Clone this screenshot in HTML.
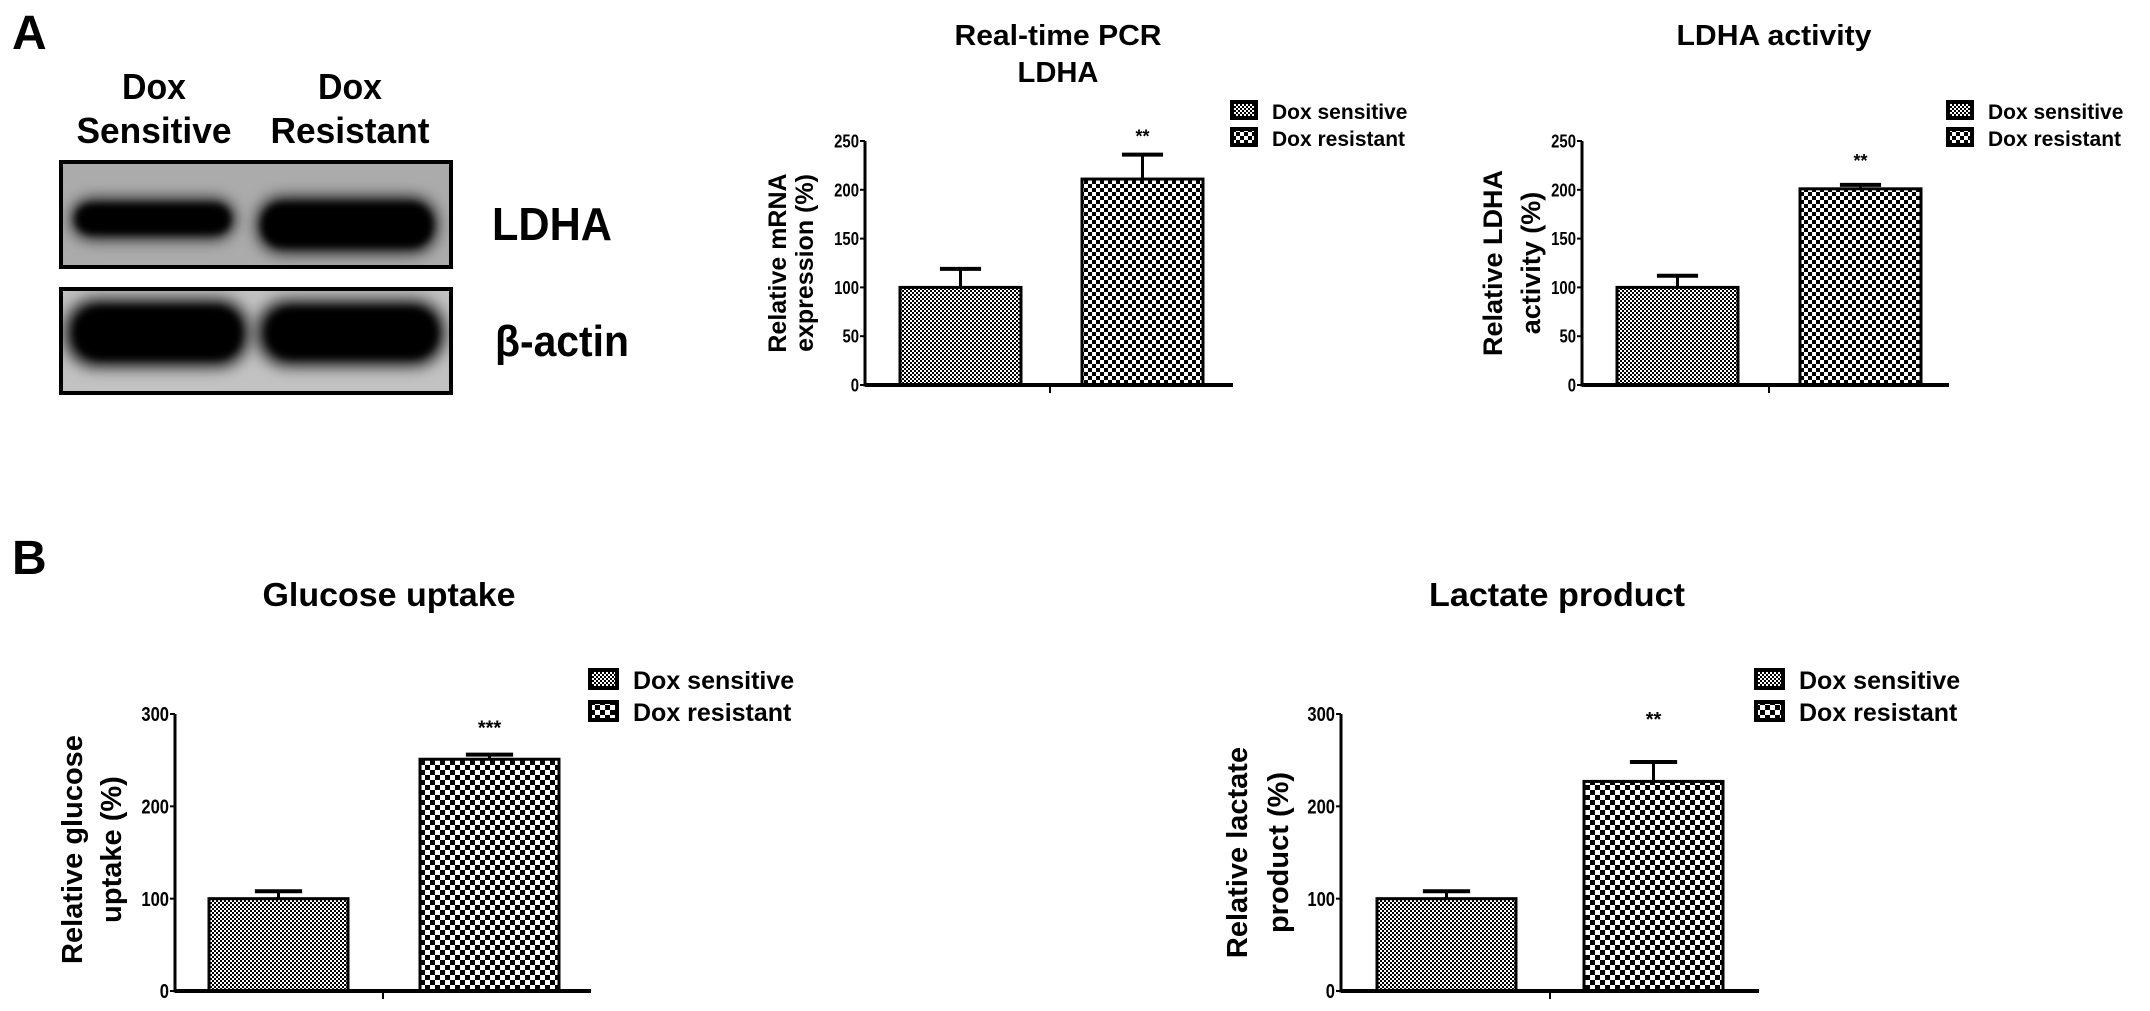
<!DOCTYPE html>
<html><head><meta charset="utf-8"><style>
html,body{margin:0;padding:0;background:#fff;}
svg{display:block;}
text{font-family:"Liberation Sans",Arial,sans-serif;font-weight:bold;fill:#000;}
</style></head><body>
<svg id="fig" width="2150" height="1011" viewBox="0 0 2150 1011" xmlns="http://www.w3.org/2000/svg">
<defs>
<pattern id="pSens" width="4" height="4" patternUnits="userSpaceOnUse"><rect width="4" height="4" fill="#fff"/><rect width="2" height="2" fill="#000"/><rect x="2" y="2" width="2" height="2" fill="#000"/></pattern>
<pattern id="pRes" width="8" height="8" patternUnits="userSpaceOnUse"><rect width="8" height="8" fill="#fff"/><rect width="4" height="4" fill="#000"/><rect x="4" y="4" width="4" height="4" fill="#000"/></pattern>
<pattern id="pRes2" width="10" height="10" patternUnits="userSpaceOnUse"><rect width="10" height="10" fill="#fff"/><rect width="5" height="5" fill="#000"/><rect x="5" y="5" width="5" height="5" fill="#000"/></pattern>
<filter id="blur" x="-30%" y="-80%" width="160%" height="260%"><feGaussianBlur stdDeviation="8"/></filter>
<filter id="blur2" x="-30%" y="-80%" width="160%" height="260%"><feGaussianBlur stdDeviation="4"/></filter>
<clipPath id="clipL"><rect x="61" y="162" width="390" height="105"/></clipPath>
<clipPath id="clipA"><rect x="61" y="289" width="390" height="104"/></clipPath>
</defs>

<text x="12" y="49" font-size="48">A</text>
<text x="12" y="574" font-size="48">B</text>

<g>
<text x="154" y="99" font-size="36" text-anchor="middle" textLength="64" lengthAdjust="spacingAndGlyphs">Dox</text>
<text x="154" y="143" font-size="36" text-anchor="middle" textLength="155" lengthAdjust="spacingAndGlyphs">Sensitive</text>
<text x="350" y="99" font-size="36" text-anchor="middle" textLength="64" lengthAdjust="spacingAndGlyphs">Dox</text>
<text x="350" y="143" font-size="36" text-anchor="middle" textLength="159" lengthAdjust="spacingAndGlyphs">Resistant</text>
<g>
<rect x="61" y="162" width="390" height="105" fill="#ababab"/>
<g clip-path="url(#clipL)">
<rect x="72" y="200" width="162" height="38" rx="19" fill="#000" filter="url(#blur)"/>
<rect x="258" y="198" width="178" height="54" rx="24" fill="#000" filter="url(#blur)"/>
<rect x="76" y="205" width="154" height="28" rx="14" fill="#000" filter="url(#blur2)"/>
<rect x="262" y="204" width="170" height="42" rx="20" fill="#000" filter="url(#blur2)"/>
</g>
<rect x="61" y="162" width="390" height="105" fill="none" stroke="#000" stroke-width="4"/>
</g>
<g>
<rect x="61" y="289" width="390" height="104" fill="#c2c2c2"/>
<g clip-path="url(#clipA)">
<rect x="66" y="300" width="182" height="66" rx="30" fill="#000" filter="url(#blur)"/>
<rect x="258" y="301" width="186" height="64" rx="30" fill="#000" filter="url(#blur)"/>
<rect x="76" y="308" width="164" height="50" rx="24" fill="#000" filter="url(#blur2)"/>
<rect x="268" y="309" width="168" height="48" rx="24" fill="#000" filter="url(#blur2)"/>
</g>
<rect x="61" y="289" width="390" height="104" fill="none" stroke="#000" stroke-width="4"/>
</g>
<text x="492" y="240" font-size="46" textLength="120" lengthAdjust="spacingAndGlyphs">LDHA</text>
<text x="495" y="356" font-size="44" textLength="134" lengthAdjust="spacingAndGlyphs">β-actin</text>
</g>
<g id="charts"></g>
</svg>
<script>
// Chart data
const categories = ["Dox sensitive", "Dox resistant"];
const pcrValues = [100, 211];
const pcrErrors = [19, 25];
const activityValues = [100, 201];
const activityErrors = [12, 4];
const glucoseValues = [100, 251];
const glucoseErrors = [8, 5];
const lactateValues = [100, 227];
const lactateErrors = [8, 21];
const ticks250 = [0, 50, 100, 150, 200, 250];
const ticks300 = [0, 100, 200, 300];
const pcrSig = "**";
const activitySig = "**";
const glucoseSig = "***";
const lactateSig = "**";

const NS = "http://www.w3.org/2000/svg";
const root = document.getElementById("charts");
function mk(tag, attrs, parent) {
  const e = document.createElementNS(NS, tag);
  for (const k in attrs) e.setAttribute(k, attrs[k]);
  (parent || root).appendChild(e);
  return e;
}

function chart(cfg, values, errors, ticks, sig) {
  const g = mk("g", {});
  
  
  const yMax = ticks[ticks.length - 1];
  const y = v => cfg.y0 - (v / yMax) * (cfg.y0 - cfg.yTop);
  cfg.title.forEach((t, i) => {
    const e = mk("text", { x: cfg.titleX, y: cfg.titleY + i * cfg.titleGap, "font-size": cfg.titleSize, "text-anchor": "middle", textLength: cfg.titleLen[i], lengthAdjust: "spacingAndGlyphs" }, g);
    e.textContent = t;
    
    
  });
  cfg.ylabel.forEach((t, i) => {
    const cx = cfg.ylabelX[i];
    const cy = (cfg.y0 + cfg.yTop) / 2 + cfg.ylabelDy;
    const e = mk("text", { x: cx, y: cy, "font-size": cfg.ylabelSize, "text-anchor": "middle", transform: `rotate(-90 ${cx} ${cy})` }, g);
    e.textContent = t;
    
    
  });
  values.forEach((v, i) => {
    const bx = cfg.barX[i];
    const top = y(v);
    const errTop = y(v + errors[i]);
    const cx = bx + cfg.barW / 2;
    const eL = mk("line", { x1: cx, y1: top, x2: cx, y2: errTop, stroke: "#000", "stroke-width": 3 }, g);
    
    
    const eC = mk("line", { x1: cx - cfg.barW * 0.17, y1: errTop, x2: cx + cfg.barW * 0.17, y2: errTop, stroke: "#000", "stroke-width": 4 }, g);
    
    
    const r = mk("rect", { x: bx, y: top, width: cfg.barW, height: cfg.y0 - top, fill: i === 0 ? "url(#pSens)" : cfg.resPat, stroke: "#000", "stroke-width": 3 }, g);
    
    
    if (i === 1) {
      const s = mk("text", { x: cx, y: y(v + errors[i]) - cfg.sigGap, "font-size": cfg.sigSize, "text-anchor": "middle" }, g);
      s.textContent = sig;
      
      
    }
  });
  const ya = mk("line", { x1: cfg.axX, y1: cfg.yTop, x2: cfg.axX, y2: cfg.y0 + 1.5, stroke: "#000", "stroke-width": 3 }, g);
  
  
  const xa = mk("line", { x1: cfg.axX, y1: cfg.y0, x2: cfg.axEnd, y2: cfg.y0, stroke: "#000", "stroke-width": 4 }, g);
  
  
  const xt = mk("line", { x1: cfg.tickX, y1: cfg.y0, x2: cfg.tickX, y2: cfg.y0 + 8, stroke: "#000", "stroke-width": 2 }, g);
  
  
  ticks.forEach(t => {
    const ty = y(t);
    const tk = mk("line", { x1: cfg.axX - 5, y1: ty, x2: cfg.axX, y2: ty, stroke: "#000", "stroke-width": 2 }, g);
    
    
    const tl = mk("text", { x: cfg.axX - 6, y: ty + cfg.tickSize * 0.36, "font-size": cfg.tickSize, "text-anchor": "end", textLength: String(t).length * cfg.tickSize * 0.46, lengthAdjust: "spacingAndGlyphs" }, g);
    tl.textContent = t;
    
    
  });
  categories.forEach((c, i) => {
    const ly = cfg.legY + i * cfg.legGap;
    const sq = mk("rect", { x: cfg.legX + 2, y: ly + 2, width: cfg.legW - 4, height: cfg.legH - 4, fill: i === 0 ? "url(#pSens)" : cfg.resPat, stroke: "#000", "stroke-width": 4 }, g);
    
    
    const lt = mk("text", { x: cfg.legX + cfg.legW + 14, y: ly + cfg.legH - 1, "font-size": cfg.legSize }, g);
    lt.textContent = c;
    
    
  });
}

chart({ name: "pcr-chart", title: ["Real-time PCR", "LDHA"], titleLen: [207, 81], titleX: 1058, titleY: 45, titleGap: 37, titleSize: 29,
  ylabel: ["Relative mRNA", "expression (%)"], ylabelX: [786, 813], ylabelDy: 0, ylabelSize: 25,
  y0: 385, yTop: 141, axX: 865, axEnd: 1233, tickX: 1050, barX: [900, 1082], barW: 121, resPat: "url(#pRes)",
  tickSize: 18, sigGap: 12, sigSize: 18,
  legX: 1230, legY: 100, legGap: 27, legW: 28, legH: 20, legSize: 21 }, pcrValues, pcrErrors, ticks250, pcrSig);

chart({ name: "ldha-activity-chart", title: ["LDHA activity"], titleLen: [195], titleX: 1774, titleY: 45, titleGap: 37, titleSize: 29,
  ylabel: ["Relative LDHA", "activity (%)"], ylabelX: [1502, 1540], ylabelDy: 0, ylabelSize: 27,
  y0: 385, yTop: 141, axX: 1582, axEnd: 1949, tickX: 1769, barX: [1617, 1800], barW: 121, resPat: "url(#pRes)",
  tickSize: 18, sigGap: 18, sigSize: 18,
  legX: 1946, legY: 100, legGap: 27, legW: 28, legH: 20, legSize: 21 }, activityValues, activityErrors, ticks250, activitySig);

chart({ name: "glucose-uptake-chart", title: ["Glucose uptake"], titleLen: [253], titleX: 389, titleY: 606, titleGap: 38, titleSize: 33,
  ylabel: ["Relative glucose", "uptake (%)"], ylabelX: [82, 121], ylabelDy: -3, ylabelSize: 29,
  y0: 991, yTop: 714, axX: 175, axEnd: 591, tickX: 383, barX: [209, 420], barW: 139, resPat: "url(#pRes2)",
  tickSize: 20, sigGap: 20, sigSize: 20,
  legX: 588, legY: 668, legGap: 32, legW: 31, legH: 22, legSize: 25 }, glucoseValues, glucoseErrors, ticks300, glucoseSig);

chart({ name: "lactate-product-chart", title: ["Lactate product"], titleLen: [256], titleX: 1557, titleY: 606, titleGap: 38, titleSize: 33,
  ylabel: ["Relative lactate", "product (%)"], ylabelX: [1247, 1288], ylabelDy: 0, ylabelSize: 29,
  y0: 991, yTop: 714, axX: 1341, axEnd: 1759, tickX: 1550, barX: [1377, 1584], barW: 139, resPat: "url(#pRes2)",
  tickSize: 20, sigGap: 36, sigSize: 20,
  legX: 1754, legY: 668, legGap: 32, legW: 31, legH: 22, legSize: 25 }, lactateValues, lactateErrors, ticks300, lactateSig);
</script>
</body></html>
